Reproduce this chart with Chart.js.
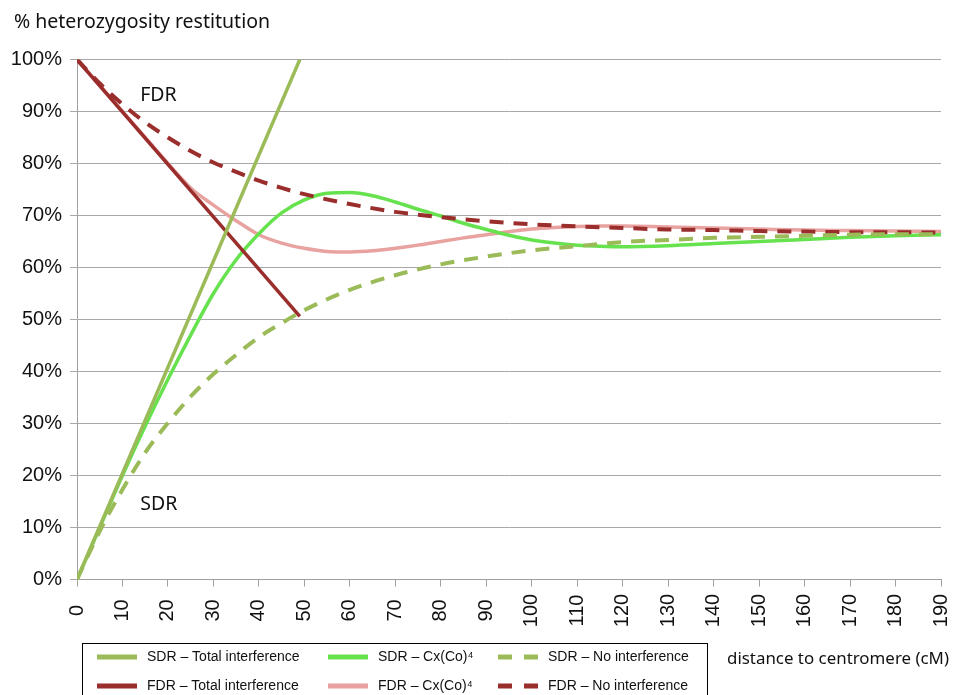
<!DOCTYPE html>
<html>
<head>
<meta charset="utf-8">
<script src="https://cdn.jsdelivr.net/npm/chart.js@4/dist/chart.umd.min.js"></script>
<style>
  body { margin: 0; background: #fff; }
  #wrap { width: 957px; height: 695px; position: relative; }
</style>
</head>
<body>
<div id="wrap"><canvas id="hetChart"></canvas></div>
<script>
// tick labels
const xTicks = [0,10,20,30,40,50,60,70,80,90,100,110,120,130,140,150,160,170,180,190];

// total interference (straight lines, stop near 49 cM)
const totX = [0, 49];
const sdrTotal = [0, 100];
const fdrTotal = [100, 50.6];

// Cx(Co)^4 curves
const cxX = [0,5,10,15,20,25,30,35,40,45,50,55,60,65,70,75,80,85,90,95,100,105,110,115,120,130,140,150,160,170,180,190];
const sdrCx = [0,10,20,29.5,38.5,47,55,61.5,66.5,70.5,73,74.3,74.4,73.8,72.6,71.2,69.9,68.5,67.3,66.2,65.3,64.7,64.3,64.1,64.0,64.2,64.6,65,65.4,65.8,66.1,66.3];
const fdrCx = [100,95,90,85,80,75.3,72,69,66.3,64.7,63.7,63.1,63.0,63.2,63.7,64.3,65,65.7,66.3,66.9,67.4,67.7,67.9,68,68,67.8,67.6,67.4,67.2,67.1,67,66.9];

// no interference curves
const noX = [0,5,10,15,20,25,30,35,40,45,50,60,70,80,90,100,110,120,130,140,150,160,170,180,190];
const sdrNo = [0,9.3,17.3,24.4,30.1,35.2,39.5,43.2,46.6,49.3,51.8,55.7,58.5,60.6,62.1,63.3,64.1,64.9,65.3,65.7,65.9,66.1,66.3,66.4,66.4];
const fdrNo = [100,95.4,91.4,87.9,85.0,82.4,80.2,78.4,76.7,75.3,74.1,72.2,70.7,69.7,68.9,68.3,67.9,67.6,67.3,67.2,67.0,66.9,66.8,66.8,66.7];

const pts = (xs, ys) => xs.map((v, i) => ({x: v, y: ys[i]}));

const OLIVE = '#9BBB59';
const DARKRED = '#9A2E2C';
const GREEN = '#66E24E';
const PINK = '#E8A2A0';

function line(label, xs, ys, color, dash, order) {
  return {
    label: label,
    data: pts(xs, ys),
    borderColor: color,
    backgroundColor: color,
    borderWidth: dash ? 4 : 3.5,
    borderDash: dash ? [14, 10] : [],
    pointRadius: 0,
    cubicInterpolationMode: 'monotone',
    tension: 0.4,
    fill: false,
    order: order
  };
}

const datasets = [
  line('SDR \u2013 Total interference', totX, sdrTotal, OLIVE, false, 2),
  line('FDR \u2013 Total interference', totX, fdrTotal, DARKRED, false, 2),
  line('SDR \u2013 Cx(Co)\u2074', cxX, sdrCx, GREEN, false, 3),
  line('FDR \u2013 Cx(Co)\u2074', cxX, fdrCx, PINK, false, 3),
  line('SDR \u2013 No interference', noX, sdrNo, OLIVE, true, 1),
  line('FDR \u2013 No interference', noX, fdrNo, DARKRED, true, 1)
];

const overlay = {
  id: 'overlay',
  afterDraw(chart) {
    const {ctx, scales: {x, y}} = chart;
    ctx.save();
    ctx.fillStyle = '#111';

    // rotated x tick labels
    ctx.font = '20px "Liberation Sans", Arial, sans-serif';
    ctx.textAlign = 'center';
    ctx.textBaseline = 'middle';
    xTicks.forEach(v => {
      ctx.save();
      ctx.translate(x.getPixelForValue(v), y.bottom + 31);
      ctx.rotate(-Math.PI / 2);
      ctx.fillText(String(v), 0, 0);
      ctx.restore();
    });

    // axis titles
    ctx.textAlign = 'left';
    ctx.font = '19.5px "Noto Sans", sans-serif';
    ctx.fillText('% heterozygosity restitution', 14, 22);
    ctx.font = '17px "Noto Sans", sans-serif';
    ctx.fillText('distance to centromere (cM)', 727, 659, 222);

    // FDR / SDR labels
    ctx.font = '19.5px "Noto Sans", sans-serif';
    ctx.fillText('FDR', x.getPixelForValue(13.9), y.getPixelForValue(93.0));
    ctx.fillText('SDR', x.getPixelForValue(13.9), y.getPixelForValue(14.4));

    // legend box
    ctx.strokeStyle = '#000';
    ctx.lineWidth = 1;
    ctx.strokeRect(82.5, 643.5, 625, 60);

    const colX = [97, 328, 498];
    const rowY = [657, 686];
    ctx.font = '14px "Liberation Sans", Arial, sans-serif';
    chart.data.datasets.forEach((ds, i) => {
      const sx = colX[Math.floor(i / 2)];
      const sy = rowY[i % 2];
      ctx.strokeStyle = ds.borderColor;
      ctx.lineWidth = 5;
      ctx.setLineDash(ds.borderDash.length ? [14, 12] : []);
      ctx.beginPath();
      ctx.moveTo(sx, sy);
      ctx.lineTo(sx + 40, sy);
      ctx.stroke();
      ctx.setLineDash([]);
      ctx.fillStyle = '#111';
      ctx.fillText(ds.label, sx + 50, sy);
    });
    ctx.restore();
  }
};

new Chart(document.getElementById('hetChart'), {
  type: 'line',
  data: { datasets: datasets },
  plugins: [overlay],
  options: {
    responsive: true,
    maintainAspectRatio: false,
    animation: false,
    layout: { padding: { top: 59.5, right: 16, bottom: 0, left: 0 } },
    plugins: { legend: { display: false }, tooltip: { enabled: false } },
    scales: {
      x: {
        type: 'linear',
        min: 0,
        max: 190,
        afterFit: s => { s.height = 115.5; },
        ticks: { stepSize: 10, display: false },
        grid: { drawOnChartArea: false, drawTicks: true, tickLength: 7, color: '#A0A0A0' },
        border: { color: '#A0A0A0' }
      },
      y: {
        min: 0,
        max: 100,
        afterFit: s => { s.width = 77; },
        ticks: {
          stepSize: 10,
          padding: 8,
          color: '#111',
          font: { family: '"Liberation Sans", Arial, sans-serif', size: 20 },
          callback: v => v + '%'
        },
        grid: { color: '#A8A8A8', tickLength: 7 },
        border: { color: '#A0A0A0' }
      }
    }
  }
});
</script>
</body>
</html>
